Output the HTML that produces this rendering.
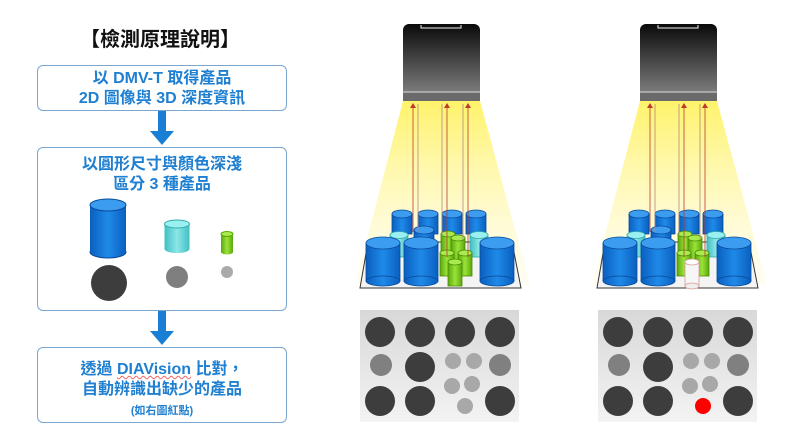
<!DOCTYPE html>
<html><head><meta charset="utf-8"><style>
body{margin:0;background:#fff;width:800px;height:433px;overflow:hidden;font-family:"Liberation Sans","Noto Sans CJK TC",sans-serif}
.box{position:absolute;left:37px;width:250px;border:1.3px solid #7aa7cf;border-radius:6px;box-sizing:border-box;color:#1f7fd0;font-weight:bold;text-align:center;font-size:16px;line-height:20px}
</style></head><body>
<div style="position:absolute;left:0;width:320px;top:23px;text-align:center;font-size:20px;font-weight:bold;color:#111;">【檢測原理說明】</div>
<div class="box" style="top:65px;height:46px;padding-top:3px">以 DMV-T 取得產品<br>2D 圖像與 3D 深度資訊</div>
<div class="box" style="top:147px;height:164px;padding-top:7px">以圓形尺寸與顏色深淺<br>區分 3 種產品</div>
<div class="box" style="top:347px;height:76px;padding-top:12px">透過 <span style="text-decoration:underline wavy #e66;text-decoration-thickness:1px">DIAVision</span> 比對，<br>自動辨識出缺少的產品<br><span style="font-size:11px;line-height:14px">(如右圖紅點)</span></div>
<svg width="800" height="433" style="position:absolute;left:0;top:0">
<defs>
<linearGradient id="cam" x1="0" y1="0" x2="0" y2="1"><stop offset="0" stop-color="#0a0a0a"/><stop offset="1" stop-color="#8a8a8a"/></linearGradient>
<linearGradient id="beam" x1="0" y1="0" x2="0" y2="1"><stop offset="0" stop-color="#fff36a"/><stop offset="1" stop-color="#fffbe0" stop-opacity=".4"/></linearGradient>
<linearGradient id="pan" x1="0" y1="0" x2="0" y2="1"><stop offset="0" stop-color="#d8d8d8"/><stop offset="1" stop-color="#f3f3f3"/></linearGradient>
<linearGradient id="bl" x1="0" x2="1"><stop offset="0" stop-color="#0a5fc0"/><stop offset=".5" stop-color="#1f8ae8"/><stop offset="1" stop-color="#0a5fc0"/></linearGradient>
<linearGradient id="cy" x1="0" x2="1"><stop offset="0" stop-color="#3fc0c4"/><stop offset=".5" stop-color="#8ee6e6"/><stop offset="1" stop-color="#3fc0c4"/></linearGradient>
<linearGradient id="gr" x1="0" x2="1"><stop offset="0" stop-color="#5aa80e"/><stop offset=".5" stop-color="#9be33a"/><stop offset="1" stop-color="#5aa80e"/></linearGradient>
</defs>
<rect x="158" y="111" width="8" height="22" fill="#1a7fd4"/><polygon points="150,131 174,131 162,145" fill="#1a7fd4"/>
<rect x="158" y="311" width="8" height="22" fill="#1a7fd4"/><polygon points="150,331 174,331 162,345" fill="#1a7fd4"/>
<g stroke-width="1">
<rect x="90" y="205" width="36" height="47" fill="url(#bl)"/><ellipse cx="108" cy="252" rx="18" ry="6" fill="url(#bl)" stroke="#0a4a9a"/><rect x="90" y="205" width="36" height="47" fill="url(#bl)"/><ellipse cx="108" cy="205" rx="18" ry="6" fill="#3c9cf0" stroke="#0a4a9a"/>
<ellipse cx="177" cy="249" rx="12.5" ry="4" fill="url(#cy)"/><rect x="164.5" y="224" width="25" height="25" fill="url(#cy)"/><ellipse cx="177" cy="224" rx="12.5" ry="4" fill="#9af0f0" stroke="#3aa"/>
<ellipse cx="227" cy="252" rx="6" ry="2.5" fill="url(#gr)"/><rect x="221" y="234" width="12" height="18" fill="url(#gr)"/><ellipse cx="227" cy="234" rx="6" ry="2.5" fill="#a8ea50" stroke="#5a0"/>
</g>
<circle cx="109" cy="283" r="18" fill="#3d3d3d"/><circle cx="177" cy="277" r="11" fill="#7f7f7f"/><circle cx="227" cy="272" r="6" fill="#aaa"/>

<g id="scene">
<polygon points="403,101 480,101 530,285 355,285" fill="url(#beam)"/>
<rect x="403" y="24" width="77" height="77" rx="6" fill="url(#cam)"/>
<rect x="403" y="92" width="77" height="9" fill="#6a6a6a"/>
<line x1="403" y1="92" x2="480" y2="92" stroke="#ddd"/>
<polyline points="421,25 421,28 461,28 461,25" fill="none" stroke="#eee"/>
<polygon points="368,242 512,242 521,288 360,288" fill="#f4f4f4" stroke="#333" stroke-width="1"/>
<g stroke="#0a4a9a" stroke-width=".8">
<rect x="392" y="214" width="20" height="20" fill="url(#bl)"/><ellipse cx="402" cy="214" rx="10" ry="4" fill="#3c9cf0"/>
<rect x="418" y="214" width="20" height="20" fill="url(#bl)"/><ellipse cx="428" cy="214" rx="10" ry="4" fill="#3c9cf0"/>
<rect x="442" y="214" width="20" height="20" fill="url(#bl)"/><ellipse cx="452" cy="214" rx="10" ry="4" fill="#3c9cf0"/>
<rect x="466" y="214" width="20" height="20" fill="url(#bl)"/><ellipse cx="476" cy="214" rx="10" ry="4" fill="#3c9cf0"/>
<rect x="390" y="235" width="18" height="22" fill="url(#cy)" stroke="#3aa"/><ellipse cx="399" cy="235" rx="9" ry="3.5" fill="#9af0f0" stroke="#3aa"/>
<rect x="470" y="235" width="18" height="22" fill="url(#cy)" stroke="#3aa"/><ellipse cx="479" cy="235" rx="9" ry="3.5" fill="#9af0f0" stroke="#3aa"/>
<rect x="414" y="230" width="20" height="18" fill="url(#bl)"/><ellipse cx="424" cy="230" rx="10" ry="4" fill="#3c9cf0"/>
</g>
<g stroke="#4a8a00" stroke-width=".8">
<rect x="441" y="234" width="14" height="24" fill="url(#gr)"/><ellipse cx="448" cy="234" rx="7" ry="3" fill="#a8ea50"/>
<rect x="451" y="238" width="14" height="24" fill="url(#gr)"/><ellipse cx="458" cy="238" rx="7" ry="3" fill="#a8ea50"/>
<rect x="440" y="253" width="14" height="23" fill="url(#gr)"/><ellipse cx="447" cy="253" rx="7" ry="3" fill="#a8ea50"/>
<rect x="458" y="253" width="14" height="23" fill="url(#gr)"/><ellipse cx="465" cy="253" rx="7" ry="3" fill="#a8ea50"/>
</g>
<g stroke="#0a4a9a" stroke-width=".8">
<rect x="366" y="243" width="34" height="38" fill="url(#bl)"/><ellipse cx="383" cy="281" rx="17" ry="5" fill="url(#bl)"/><ellipse cx="383" cy="243" rx="17" ry="6" fill="#3c9cf0"/>
<rect x="404" y="243" width="34" height="38" fill="url(#bl)"/><ellipse cx="421" cy="281" rx="17" ry="5" fill="url(#bl)"/><ellipse cx="421" cy="243" rx="17" ry="6" fill="#3c9cf0"/>
<rect x="480" y="243" width="34" height="38" fill="url(#bl)"/><ellipse cx="497" cy="281" rx="17" ry="5" fill="url(#bl)"/><ellipse cx="497" cy="243" rx="17" ry="6" fill="#3c9cf0"/>
</g>
<g stroke-width=".8">
<line x1="413" y1="104" x2="413" y2="232" stroke="#c0392b"/><polygon points="410,108 416,108 413,103" fill="#c0392b"/>
<line x1="418" y1="104" x2="418" y2="232" stroke="#b08a80"/>
<line x1="442" y1="104" x2="442" y2="236" stroke="#b08a80"/>
<line x1="447" y1="104" x2="447" y2="257" stroke="#c0392b"/><polygon points="444,108 450,108 447,103" fill="#c0392b"/>
<line x1="463" y1="104" x2="463" y2="240" stroke="#b08a80"/>
<line x1="468" y1="104" x2="468" y2="257" stroke="#c0392b"/><polygon points="465,108 471,108 468,103" fill="#c0392b"/>
</g>
</g>
<g transform="translate(237,0)"><use href="#scene"/></g>
<g stroke-width=".8">
<rect x="448" y="262" width="14" height="24" fill="url(#gr)" stroke="#4a8a00"/><ellipse cx="455" cy="262" rx="7" ry="3" fill="#a8ea50" stroke="#4a8a00"/>
<rect x="685" y="262" width="14" height="24" fill="#f6f6f6" stroke="#d99"/><ellipse cx="692" cy="286" rx="7" ry="3" fill="#eee" stroke="#d99"/><ellipse cx="692" cy="262" rx="7" ry="3" fill="#fff" stroke="#d99"/>
</g>
<g id="p1">
<rect x="360" y="310" width="159" height="112" fill="url(#pan)"/>
<g fill="#3d3d3d"><circle cx="380" cy="332" r="15"/><circle cx="420" cy="332" r="15"/><circle cx="460" cy="332" r="15"/><circle cx="500" cy="332" r="15"/>
<circle cx="420" cy="367" r="15"/><circle cx="380" cy="401" r="15"/><circle cx="420" cy="401" r="15"/><circle cx="500" cy="401" r="15"/></g>
<g fill="#808080"><circle cx="381" cy="365" r="11"/><circle cx="500" cy="365" r="11"/></g>
<g fill="#a8a8a8"><circle cx="453" cy="361" r="8"/><circle cx="474" cy="361" r="8"/><circle cx="452" cy="386" r="8"/><circle cx="472" cy="384" r="8"/></g>
</g>
<circle cx="465" cy="406" r="8" fill="#a8a8a8"/>
<g transform="translate(238,0)"><use href="#p1"/></g>
<circle cx="703" cy="406" r="8" fill="#f00"/>
</svg>
</body></html>
